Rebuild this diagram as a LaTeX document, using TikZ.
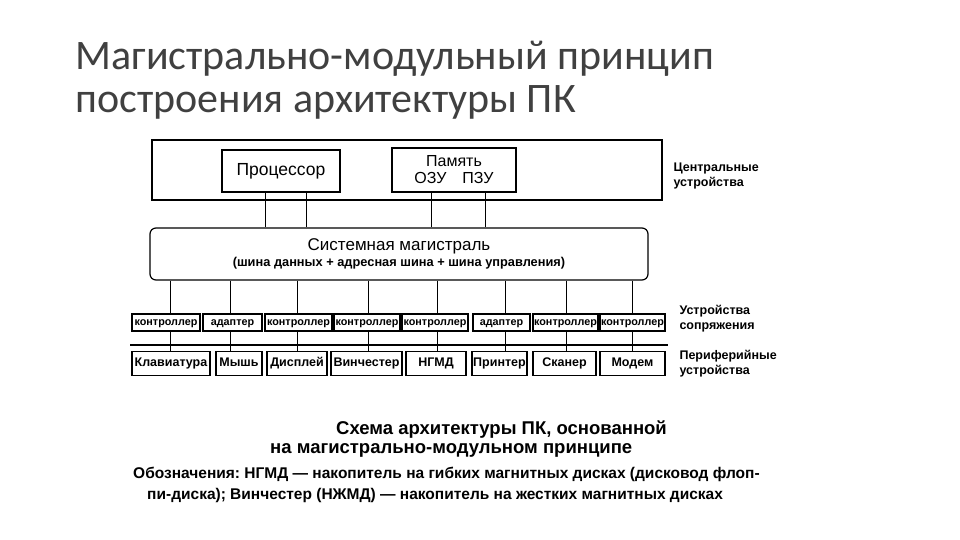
\documentclass[tikz,border=0pt]{standalone}
\usepackage{fontspec}
\setmainfont{Liberation Sans}
\newfontfamily\titlefont{Carlito}
\frenchspacing
\begin{document}
\begin{tikzpicture}[x=1pt,y=-1pt,
  bx/.style={draw,line width=1.2pt,inner sep=0pt},
  ln/.style={line width=0.9pt},
  sm/.style={font=\fontsize{10.8}{11}\selectfont\bfseries},
  lab/.style={font=\fontsize{12.5}{15}\selectfont\bfseries,align=left,anchor=west}]
\useasboundingbox (0,0) rectangle (960,540);
\node[anchor=west,font=\titlefont\fontsize{42}{43}\selectfont,align=left,color=black!75] (title) at (72,80) {Магистрально-модульный принцип\\построения архитектуры ПК};
% top frame
\node[bx,minimum width=510,minimum height=60] (top) at (407,170) {};
\node[bx,minimum width=118,minimum height=42,font=\fontsize{17.5}{18}\selectfont] (cpu) at (281,171) {Процессор};
\node[bx,minimum width=124,minimum height=44,font=\fontsize{16}{17}\selectfont,align=center] (mem) at (454,170) {Память\\ОЗУ\quad ПЗУ};
\node[bx,rounded corners=6,minimum width=498,minimum height=52,align=center] (bus) at (399,254)
 {{\fontsize{17}{18}\selectfont Системная магистраль}\\[2pt]{\fontsize{12.8}{14}\selectfont\bfseries (шина данных + адресная шина + шина управления)}};
\foreach \x in {265,306}{\draw[ln] (\x,0|-cpu.south) -- (\x,0|-bus.north);}
\foreach \x in {431,485}{\draw[ln] (\x,0|-mem.south) -- (\x,0|-bus.north);}
\node[lab] (l1) at (670,176) {Центральные\\устройства};
\node[lab] (l2) at (676,319) {Устройства\\сопряжения};
\node[lab] (l3) at (676,364) {Периферийные\\устройства};
\draw[line width=1.6pt] (130,345) -- (668,345);
% controllers
\foreach \i/\a/\b/\t in {1/132/200/контроллер,2/203/262/адаптер,3/265/332/контроллер,4/334/400/контроллер,5/402/468/контроллер,6/473/530/адаптер,7/533/598/контроллер,8/600/665/контроллер}{
  \node[bx,sm,minimum width=\b-\a,minimum height=17,text height=8,text depth=2] (c\i) at ({(\a+\b)/2},322.5) {\t};}
\foreach \i/\a/\b/\t in {1/132/210/Клавиатура,2/216/262/Мышь,3/267/327/Дисплей,4/331/402/Винчестер,5/406/466/НГМД,6/472/527/Принтер,7/533/596/Сканер,8/600/665/Модем}{
  \node[bx,font=\fontsize{12.5}{13}\selectfont\bfseries,minimum width=\b-\a,minimum height=24,text height=9,text depth=2.5] (p\i) at ({(\a+\b)/2},363.5) {\t};}
\foreach \i/\x in {1/170,2/230,3/297,4/368,5/437,6/505,7/566,8/632}{
  \draw[ln] (\x,0|-bus.south) -- (\x,0|-c\i.north);
  \draw[ln] (\x,0|-c\i.south) -- (\x,0|-p\i.north);}
% caption
\node[font=\fontsize{18.5}{21}\selectfont\bfseries,anchor=west,inner sep=0pt] (cap1) at (336,430) {Схема архитектуры ПК, основанной};
\node[font=\fontsize{18.5}{21}\selectfont\bfseries,anchor=west,inner sep=0pt] (cap2) at (270,450) {на магистрально-модульном принципе};
\node[anchor=north west,font=\fontsize{15.5}{21}\selectfont\bfseries,align=left,inner sep=0pt] (note) at (133,467) {Обозначения: НГМД — накопитель на гибких магнитных дисках (дисковод флоп-\\\hspace*{14pt}пи-диска); Винчестер (НЖМД) — накопитель на жестких магнитных дисках};
\end{tikzpicture}
\end{document}
